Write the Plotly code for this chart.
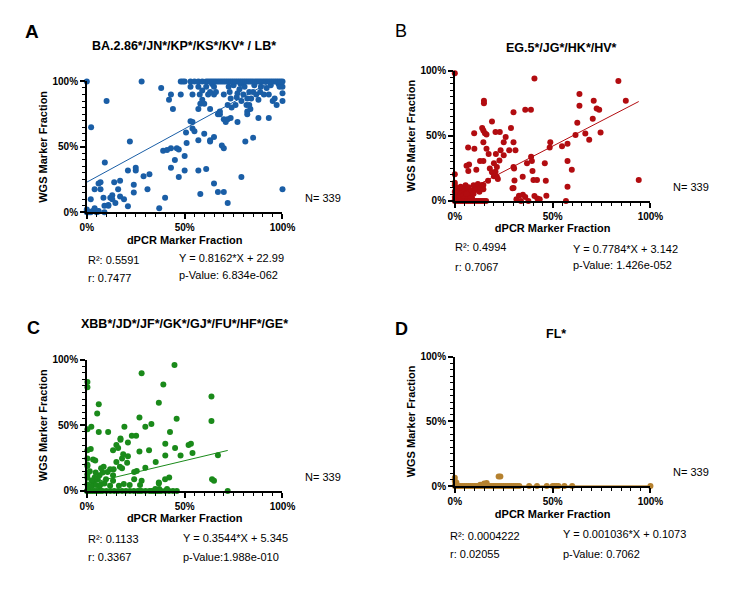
import plotly.graph_objects as go

W, H = 754, 592
FONT = "Arial, Liberation Sans, Helvetica, sans-serif"

# ---------------- data ----------------
panel_letters = ["A", "B", "C", "D"]
panel_titles = ["BA.2.86*/JN*/KP*/KS*/KV* / LB*", "EG.5*/JG*/HK*/HV*",
                "XBB*/JD*/JF*/GK*/GJ*/FU*/HF*/GE*", "FL*"]
colors = ["#1a5ea6", "#b20c10", "#1a8a1a", "#b5812f"]
slopes = [0.8162, 0.7784, 0.3544, 0.001036]
intercepts = [22.99, 3.142, 5.345, 0.1073]
r2_text = ["0.5591", "0.4994", "0.1133", "0.0004222"]
r_text = ["0.7477", "0.7067", "0.3367", "0.02055"]
eq_text = ["Y = 0.8162*X + 22.99", "Y = 0.7784*X + 3.142",
           "Y = 0.3544*X + 5.345", "Y = 0.001036*X + 0.1073"]
p_text = ["p-Value: 6.834e-062", "p-Value: 1.426e-052",
          "p-Value:1.988e-010", "p-Value: 0.7062"]
n_text = ["N= 339", "N= 339", "N= 339", "N= 339"]
x_title = "dPCR Marker Fraction"
y_title = "WGS Marker Fraction"

a_points = [
    (0, 0), (0, 1), (0, 2), (1, 0), (2, 0), (3, 1), (5, 0), (6, 1), (9, 0),
    (0, 100), (2.2, 65), (10.1, 85), (9.2, 38), (22, 54), (28, 100), (38, 95),
    (2, 10), (4, 17.5), (6, 22), (7, 23), (7, 17.5), (8.5, 11), (4, 3), (6, 0.5), (9, 5),
    (11, 5.5), (12, 11), (13, 13), (13, 10), (14.6, 7), (14, 23), (16, 17.5), (17, 24),
    (19, 10), (21, 4.5), (21, 32), (24, 21), (24, 15), (25, 32), (25, 34), (29, 27.5),
    (32, 29), (31, 17.5), (17, 12), (11, 5), (37, 3), (40, 11),
    (39, 47), (41, 47.5), (43, 49), (43, 34), (45, 40), (46, 49), (47, 48), (47, 27),
    (50, 43), (50, 32), (51, 53), (50.7, 61), (53, 69.5), (54, 69), (54, 64), (55, 62),
    (57, 55), (57, 32), (58, 14), (60, 60), (61, 33), (63, 55), (63, 54), (65, 57.5),
    (65, 22), (67, 15.5), (72, 7), (70, 15.5), (70, 49), (69, 51), (79, 27), (81, 54),
    (85, 57), (71, 69),
    (42, 86), (43, 90), (44, 79), (48, 90), (53, 96), (54, 90), (57, 96), (57, 79),
    (57.7, 90), (58, 83), (59, 86), (59, 93), (60, 83), (61, 96), (62, 90), (63, 92),
    (63, 79), (64, 98), (65, 96), (65, 90), (66, 92), (67, 75), (68, 75), (70, 90),
    (72, 82), (72.5, 96), (73, 92), (73.5, 87), (74, 80), (75, 97), (76, 82), (76.6, 88),
    (77, 91), (78, 94), (78.6, 98), (79, 85), (80, 90), (80.6, 96), (81.6, 82), (82, 77),
    (82, 87), (83, 92), (83, 82), (83.6, 79), (84, 87), (85, 92), (85.6, 97), (86.6, 90),
    (87.7, 86), (88.6, 92), (89, 96), (90.5, 90), (91.9, 95), (93, 90), (94, 97), (95, 85),
    (96, 87), (97, 82), (98, 98), (98.5, 96), (100, 91), (100, 96), (100, 85), (100, 17.5),
    (93, 72), (72, 71), (70, 71), (68, 77), (73.5, 72), (77, 69), (82, 75), (87.7, 72),
    (48, 100), (49, 100), (50, 100), (53, 100), (55, 100), (57, 100), (59, 100), (61, 100),
    (62, 100), (63, 100), (64, 100), (65, 100), (66, 100), (67, 100), (68, 100), (69, 100),
    (70, 100), (71, 100), (72, 100), (73, 100), (74, 100), (75, 100), (76, 100), (77, 100),
    (78, 100), (79, 100), (80, 100), (81, 100), (82, 100), (83, 100), (84, 100), (85, 100),
    (86, 100), (87, 100), (88, 100), (89, 100), (90, 100), (91, 100), (92, 100), (93, 100),
    (94, 100), (95, 100), (96, 100), (97, 100), (98, 100), (99, 100), (100, 100),
]

b_points = [
    (0, 98), (40.7, 94), (83.6, 92), (87.4, 77), (63.7, 82), (63.7, 73), (71, 77),
    (72.5, 71), (73.8, 70), (74.5, 52.6), (70.5, 63), (62.6, 60), (61.7, 50.6),
    (66.7, 51.8), (68.7, 47), (94, 16), (14.9, 77), (14.9, 75), (36, 70), (38.9, 70),
    (30, 68), (19, 61), (14, 56), (14.6, 54), (15.4, 52), (16.2, 51), (9.9, 52),
    (20.8, 53), (23, 53), (28.7, 56), (26, 49), (25, 45), (30, 45), (31, 39), (27.8, 39),
    (23.4, 39), (25, 35), (21, 36), (22.8, 31), (17.3, 36), (20, 29), (16.2, 40),
    (14.6, 45), (14.6, 30.6), (12.9, 30.6), (6.8, 41), (10, 40), (7.3, 28), (6, 27),
    (6.9, 23), (11, 24), (17.9, 25), (19, 22), (21.5, 26), (20.8, 22.5), (21.5, 18.5),
    (20, 19), (22, 16.8), (17, 15.5), (14.6, 12.3), (13, 11.8), (30, 26), (30.3, 25),
    (32.8, 4), (29.5, 9.8), (34.7, 18.5), (39, 34), (39.4, 30.6), (39.7, 23), (36.9, 29),
    (40.2, 16), (42, 16), (42.2, 1.8), (46.8, 4), (46.5, 15.5), (48.5, 41), (48.8, 45),
    (46, 29), (54.8, 42), (57.6, 44), (57.6, 30.6), (57.6, 11), (56.8, 0), (59.8, 24),
    (40.7, 3.8), (31.5, 1.3), (33.8, 0), (34.8, 4.8), (36, 3), (37.6, 0), (43.4, 1.3),
    (30.5, 15.8), (30, 10),
    (0, 20.5), (0, 14), (0, 12), (0.5, 9), (1, 4), (1.3, 7), (2, 10), (3, 11), (3.8, 9),
    (4.6, 7), (5.5, 12), (6.3, 9), (7, 10.5), (7.6, 5.5), (8.3, 8), (8.8, 2.5), (9.6, 12),
    (10, 8), (10.4, 10.5), (11, 9), (11.8, 13), (12.6, 7), (13.2, 10), (14, 12), (14.6, 9),
    (4.6, 1.8), (6.3, 1.8), (8, 2.3), (4.3, 4), (2, 4), (1.6, 2.3), (6, 5.5), (3, 5.5),
    (9.6, 5.5), (0, 7), (0, 3), (0, 1),
    (0, 0), (1, 0), (2, 0), (3, 0), (4, 0), (5, 0), (6, 0), (7, 0), (8, 0), (9, 0),
    (10, 0), (11, 0), (12, 0), (13, 0), (14, 0), (15, 0), (16, 0),
]

c_points = [
    (44.8, 96), (28, 89.75), (39.1, 81), (36.8, 67.25), (63.7, 72), (63.7, 53.25),
    (45.9, 55), (26.9, 56), (33, 51), (29.9, 49), (42.5, 45), (40.1, 36), (45.1, 32.75),
    (31.8, 31), (35.2, 22), (29.9, 17.75), (25.5, 15.25), (47.9, 27), (40.1, 27), (52, 35),
    (53.2, 36), (54, 29), (67, 27.25), (64, 9), (65, 7.75), (72, 0), (42.1, 10.25),
    (40, 9), (36.8, 6.5), (36.8, 5.75), (28, 7.75), (27.2, 4.5), (26.9, 30), (25.2, 42),
    (23, 42), (21, 37), (19.2, 49), (17.2, 40), (17.2, 39), (15.1, 35), (16, 32.75),
    (13.4, 31), (10.9, 45), (6.1, 45), (5.3, 59), (6.1, 66), (2.3, 49), (2, 32),
    (3.2, 24), (4.3, 23.25), (0.3, 83), (0.3, 79), (0.3, 47), (0.3, 31), (0.3, 24.75),
    (0.3, 20), (0.3, 19), (0.3, 12.75), (0.3, 10), (0.3, 5), (0.7, 1.5),
    (18, 24.75), (18.6, 28), (21, 26.5), (20.6, 21.5), (18, 17.25), (16.9, 18.5),
    (15.1, 22), (13.7, 16.5), (13.4, 12), (11.9, 16.5), (10.6, 14.5), (9.8, 9), (8.1, 14),
    (7.3, 17.25), (8.6, 18.5), (6.5, 12), (5.6, 9), (4.5, 14), (4, 10.25), (3.2, 7),
    (2.7, 4), (4.8, 4.5), (6.5, 3.5), (7.3, 5.25), (9, 5.75), (11.9, 4), (13.4, 7.75),
    (16.4, 4), (18.9, 5.25), (21.9, 4.5), (24.2, 9), (24.2, 14.5), (1.5, 15), (2.5, 8),
    (0, 0), (1, 0), (2, 0), (3, 0), (4, 0), (5, 0), (6, 0), (7, 0), (8, 0), (10, 0),
    (12, 0), (14, 0), (16, 0), (18, 0), (20, 0), (22, 0), (24, 0), (26, 0), (27, 0),
    (28, 0), (30, 0), (32, 0), (33, 0), (34, 0), (35, 0), (36, 0), (37, 0), (38, 0),
    (40, 0), (42, 0), (44, 0), (46, 0), (35, 1.5), (37, 1.5), (41, 1.5),
]

d_points = [
    (0, 6.5), (0, 4), (0.3, 1.5), (0.8, 2.8), (15, 2), (16.3, 2.3), (14, 0.8),
    (22.4, 7.3), (23.3, 7.3), (16, 1), (13, 1),
    (0, 0), (1, 0), (2, 0), (3, 0), (4, 0), (5, 0), (6, 0), (7, 0), (8, 0), (9, 0),
    (10, 0), (11, 0), (12, 0), (13, 0), (14, 0), (15, 0), (16, 0), (17, 0), (18, 0),
    (19, 0), (20, 0), (21, 0), (22, 0), (23, 0), (24, 0), (25, 0), (26, 0), (27, 0),
    (28, 0), (29, 0), (30, 0), (31, 0), (32, 0), (33, 0), (38, 0), (42, 0), (47, 0),
    (50, 0), (51, 0), (52, 0), (53, 0), (56, 0), (60, 0), (100, 0),
]
all_points = [a_points, b_points, c_points, d_points]

# ---------------- layout geometry (pixels) ----------------
# plot rectangles: (left, right, top(100%), bottom(0%))
rects = [(82, 283, 77, 210.5), (460, 661, 66, 199),
         (82, 283, 361, 495), (460, 661, 358, 490)]


def px(x):
    return x / W


def py(y):
    return 1 - y / H


fig = go.Figure()
title_font = dict(family=FONT, size=11, color="black", weight="bold")
axis_common = dict(range=[0, 100], tickmode="linear", tick0=0, dtick=50, ticksuffix="%",
                   ticks="outside", ticklen=5, tickwidth=1.5, tickcolor="black",
                   showline=True, linecolor="black", linewidth=1.5,
                   showgrid=False, zeroline=False, fixedrange=True,
                   tickfont=dict(family=FONT, size=10, color="black", weight="bold"),
                   minor=dict(dtick=5, tick0=0, ticks="outside", ticklen=3,
                              tickwidth=1, tickcolor="black", showgrid=False))

for i in range(4):
    sfx = "" if i == 0 else str(i + 1)
    l, r, t, b = rects[i]
    fig.update_layout(**{
        "xaxis" + sfx: dict(axis_common, domain=[px(l), px(r)], anchor="y" + sfx,
                            title=dict(text=x_title, font=title_font, standoff=4)),
        "yaxis" + sfx: dict(axis_common, domain=[py(b), py(t)], anchor="x" + sfx,
                            title=dict(text=y_title, font=title_font, standoff=3)),
    })
    pts = all_points[i]
    xs = [p[0] for p in pts]
    ys = [p[1] for p in pts]
    fig.add_trace(go.Scatter(x=xs, y=ys, mode="markers", xaxis="x" + sfx, yaxis="y" + sfx,
                             marker=dict(size=6, color=colors[i], line=dict(width=0)),
                             cliponaxis=False, hoverinfo="skip"))
    m, c = slopes[i], intercepts[i]
    x_end = min(max(xs), (100 - c) / m)
    fig.add_trace(go.Scatter(x=[0, x_end], y=[c, m * x_end + c], mode="lines",
                             xaxis="x" + sfx, yaxis="y" + sfx,
                             line=dict(color=colors[i], width=1), cliponaxis=False,
                             hoverinfo="skip"))

# ---------------- text ----------------
ann = []


def add(text, x, y, size=11, bold=False, xanchor="left", angle=0):
    ann.append(dict(text=text, x=px(x), y=py(y), xref="paper", yref="paper",
                    xanchor=xanchor, yanchor="middle", showarrow=False, textangle=angle,
                    borderpad=0, font=dict(family=FONT, size=size, color="black",
                                           weight="bold" if bold else "normal")))


letter_pos = [(25.5, 26, True, 19), (405, 26, False, 18), (27, 329, True, 18), (405, 330, True, 18)]
title_pos = [(182, 41), (570, 43), (182, 325), (564, 335)]
n_pos = [(305, 196), (683, 185), (305, 481), (683, 476)]
r2_pos = [(82, 259), (459, 246), (82, 544), (454, 541)]
rr_pos = [(82, 278), (459, 266), (82, 562), (454, 559)]
eq_pos = [(176, 257), (580, 248), (180, 543), (570, 539)]
pv_pos = [(176, 275), (580, 264), (180, 562), (570, 559)]

for i in range(4):
    lx, ly, lb, ls = letter_pos[i]
    add(panel_letters[i], lx, ly, size=ls, bold=lb, xanchor="center")
    add(panel_titles[i], title_pos[i][0], title_pos[i][1], size=12.5, bold=True, xanchor="center")
    add(n_text[i], n_pos[i][0], n_pos[i][1], size=11)
    add("R²: " + r2_text[i], r2_pos[i][0], r2_pos[i][1], size=11)
    add("r: " + r_text[i], rr_pos[i][0], rr_pos[i][1], size=11)
    add(eq_text[i], eq_pos[i][0], eq_pos[i][1], size=11)
    add(p_text[i], pv_pos[i][0], pv_pos[i][1], size=11)

fig.update_layout(width=W, height=H, margin=dict(l=0, r=0, t=0, b=0),
                  paper_bgcolor="white", plot_bgcolor="white", showlegend=False,
                  annotations=ann)

fig.write_html("out.html")
